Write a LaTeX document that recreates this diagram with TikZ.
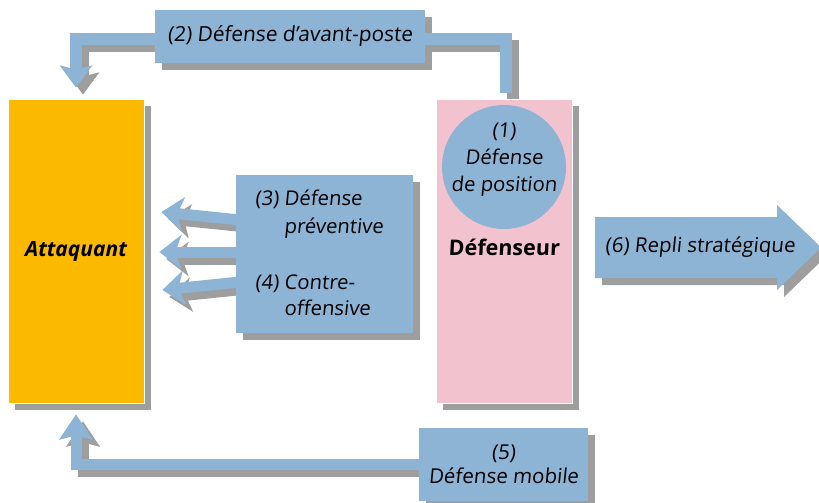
\documentclass[tikz,border=0pt]{standalone}
\usepackage{fontspec}
\setmainfont{Open Sans}[UprightFeatures={FakeSlant=0.1},BoldFeatures={FakeSlant=0.05}]
\usetikzlibrary{arrows.meta}
\pgfdeclarelayer{shadowlayer}
\pgfdeclarelayer{connlayer}
\pgfsetlayers{shadowlayer,connlayer,main}
\definecolor{bl}{HTML}{8DB3D5}
\definecolor{orng}{HTML}{FBB900}
\definecolor{pk}{HTML}{F2C3CF}
\definecolor{shd}{HTML}{9E9E9E}
\tikzset{
  txt/.style={font=\fontsize{20.3}{26}\selectfont, inner sep=0pt, text=black},
  panel/.style={rectangle, fill=bl, inner sep=0pt},
  conn/.style={draw=bl, line width=12pt, line join=miter, line cap=butt},
  connshd/.style={draw=shd, line width=12pt, line join=miter, line cap=butt, transform canvas={shift={(7pt,-7pt)}}},
  tipA/.style={-{Stealth[length=22pt,width=32pt,inset=4pt]}},
  tipB/.style={-{Stealth[length=22pt,width=34pt,inset=6pt]}},
  tipC/.style={-{Stealth[length=25pt,width=33pt,inset=4pt]}},
}
\newcommand{\dropshd}[1]{\fill[shd] ([shift={(7pt,-7pt)}]#1.south west) rectangle ([shift={(7pt,-7pt)}]#1.north east);}
\begin{document}
\begin{tikzpicture}[x=1pt,y=-1pt]
\useasboundingbox (0,0) rectangle (819,503);
% nodes
\node[panel, fill=orng, draw=white, line width=0.8pt, minimum width=136pt, minimum height=304pt, txt, font=\fontsize{21}{26}\selectfont] (att) at (76,251) {\bfseries\itshape Attaquant};
\node[panel, fill=pk, draw=white, line width=0.8pt, minimum width=136pt, minimum height=304pt] (def) at (504,251) {};
\node[txt, font=\fontsize{21.5}{26}\selectfont\bfseries] (defl) at (504,247) {Défenseur};
\node[circle, fill=bl, minimum size=124pt, inner sep=0pt] (pos1) at (504,167) {};
\node[txt, align=center, font=\fontsize{20.3}{27}\selectfont] (pos1t) at (504,160) {(1)\\Défense\\de position};
\node[panel, minimum width=270pt, minimum height=53pt, txt, font=\fontsize{20.8}{26}\selectfont] (lab2) at (290,36.5) {(2) Défense d'avant-poste};
\node[panel, minimum width=177pt, minimum height=158pt] (b34) at (324.5,254) {};
\node[txt, anchor=west, align=left, font=\fontsize{20.3}{28}\selectfont] (t3) at (255,214) {(3) Défense\\\phantom{(3) }préventive};
\node[txt, anchor=west, align=left, font=\fontsize{20.3}{26}\selectfont] (t4) at (255,297) {(4) Contre-\\\phantom{(4) }offensive};
\node[panel, minimum width=169pt, minimum height=73pt, txt, align=center, font=\fontsize{20.5}{24}\selectfont] (b5) at (503.5,464.5) {(5)\\Défense mobile};
% strategic withdrawal arrow
\fill[bl] (595,217) -- (777,217) -- (777,205) -- (821,247.5) -- (777,290) -- (777,278) -- (595,278) -- cycle;
\node[txt, anchor=west, font=\fontsize{20.5}{26}\selectfont] (r6) at (605,247) {(6) Repli stratégique};
% shadows
\begin{pgfonlayer}{shadowlayer}
\dropshd{att}
\dropshd{def}
\dropshd{lab2}
\dropshd{b34}
\dropshd{b5}
\fill[shd, shift={(7,7)}] (595,217) -- (777,217) -- (777,205) -- (821,247.5) -- (777,290) -- (777,278) -- (595,278) -- cycle;
\draw[connshd, tipA] ([xshift=1.5pt,yshift=6pt]def.north) -- ++(0,-54) -| ([yshift=11pt]att.north);
\draw[connshd, line width=11pt, tipC] (b5.west) -| ([yshift=-11pt]att.south);
\draw[connshd, line width=11pt, tipB] ([xshift=4pt,yshift=34pt]b34.west) -- ([shift={(17,-39)}]att.east);
\draw[connshd, line width=11pt, tipB] ([xshift=4pt,yshift=2pt]b34.west) -- ([shift={(15,1)}]att.east);
\draw[connshd, line width=11pt, tipB] ([xshift=4pt,yshift=-28pt]b34.west) -- ([shift={(18,39)}]att.east);
\end{pgfonlayer}
% connectors
\begin{pgfonlayer}{connlayer}
\draw[conn, tipA] ([xshift=1.5pt,yshift=6pt]def.north) -- ++(0,-54) -| ([yshift=11pt]att.north);
\draw[conn, line width=11pt, tipC] (b5.west) -| ([yshift=-11pt]att.south);
\draw[conn, line width=11pt, tipB] ([xshift=4pt,yshift=34pt]b34.west) -- ([shift={(17,-39)}]att.east);
\draw[conn, line width=11pt, tipB] ([xshift=4pt,yshift=2pt]b34.west) -- ([shift={(15,1)}]att.east);
\draw[conn, line width=11pt, tipB] ([xshift=4pt,yshift=-28pt]b34.west) -- ([shift={(18,39)}]att.east);
\end{pgfonlayer}
\end{tikzpicture}
\end{document}
